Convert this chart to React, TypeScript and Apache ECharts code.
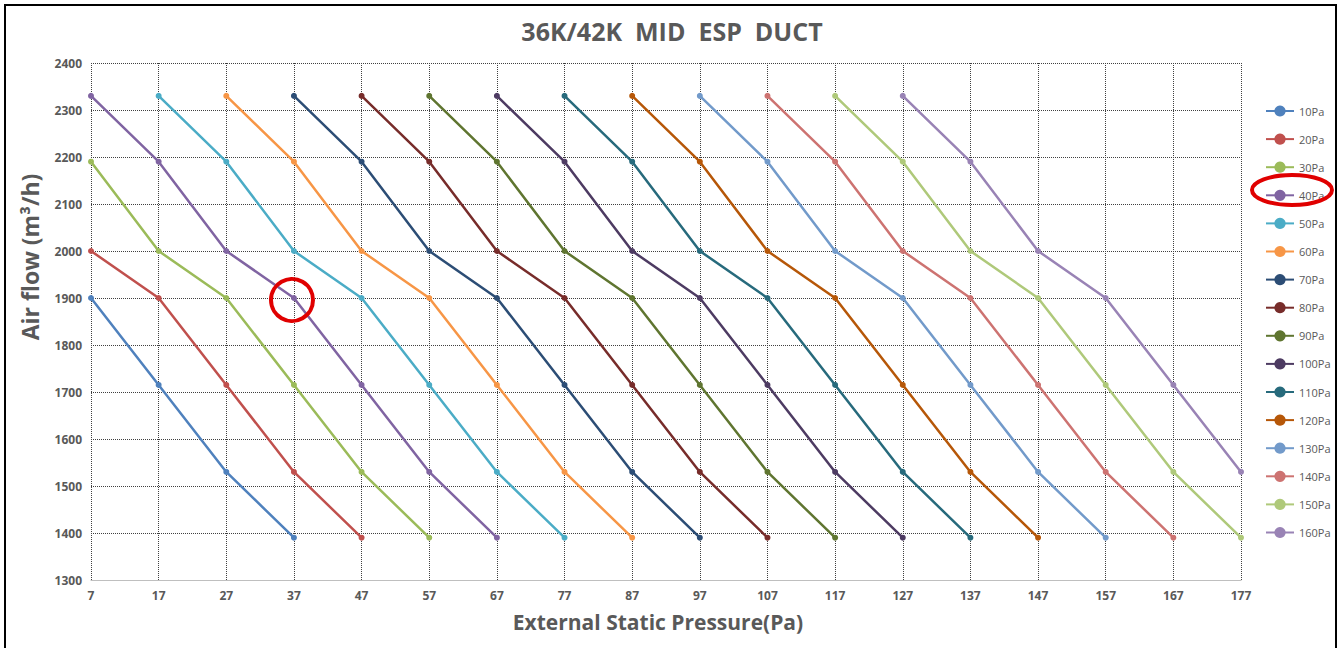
import React, { useEffect, useRef } from "react";
import * as echarts from "echarts";

const titleText = "36K/42K  MID  ESP  DUCT";
const xAxisName = "External Static Pressure(Pa)";
const yAxisName = "Air flow (m³/h)";

const seriesNames = ["10Pa", "20Pa", "30Pa", "40Pa", "50Pa", "60Pa", "70Pa", "80Pa", "90Pa", "100Pa", "110Pa", "120Pa", "130Pa", "140Pa", "150Pa", "160Pa"];

const colors = ["#4F81BD", "#C0504D", "#9BBB59", "#8064A2", "#4BACC6", "#F79646", "#2C4D75", "#772C2A", "#5F7530", "#4D3B62", "#276A7C", "#B65708", "#729ACA", "#CD7371", "#AFC97A", "#9983B5"];

const s10 = [[7, 1900], [17, 1715], [27, 1530], [37, 1390]];
const s20 = [[7, 2000], [17, 1900], [27, 1715], [37, 1530], [47, 1390]];
const s30 = [[7, 2190], [17, 2000], [27, 1900], [37, 1715], [47, 1530], [57, 1390]];
const s40 = [[7, 2330], [17, 2190], [27, 2000], [37, 1900], [47, 1715], [57, 1530], [67, 1390]];
const s50 = [[17, 2330], [27, 2190], [37, 2000], [47, 1900], [57, 1715], [67, 1530], [77, 1390]];
const s60 = [[27, 2330], [37, 2190], [47, 2000], [57, 1900], [67, 1715], [77, 1530], [87, 1390]];
const s70 = [[37, 2330], [47, 2190], [57, 2000], [67, 1900], [77, 1715], [87, 1530], [97, 1390]];
const s80 = [[47, 2330], [57, 2190], [67, 2000], [77, 1900], [87, 1715], [97, 1530], [107, 1390]];
const s90 = [[57, 2330], [67, 2190], [77, 2000], [87, 1900], [97, 1715], [107, 1530], [117, 1390]];
const s100 = [[67, 2330], [77, 2190], [87, 2000], [97, 1900], [107, 1715], [117, 1530], [127, 1390]];
const s110 = [[77, 2330], [87, 2190], [97, 2000], [107, 1900], [117, 1715], [127, 1530], [137, 1390]];
const s120 = [[87, 2330], [97, 2190], [107, 2000], [117, 1900], [127, 1715], [137, 1530], [147, 1390]];
const s130 = [[97, 2330], [107, 2190], [117, 2000], [127, 1900], [137, 1715], [147, 1530], [157, 1390]];
const s140 = [[107, 2330], [117, 2190], [127, 2000], [137, 1900], [147, 1715], [157, 1530], [167, 1390]];
const s150 = [[117, 2330], [127, 2190], [137, 2000], [147, 1900], [157, 1715], [167, 1530], [177, 1390]];
const s160 = [[127, 2330], [137, 2190], [147, 2000], [157, 1900], [167, 1715], [177, 1530]];

const allSeries = [s10, s20, s30, s40, s50, s60, s70, s80, s90, s100, s110, s120, s130, s140, s150, s160];

const FONT = "'Open Sans', 'Noto Sans', sans-serif";

export default function App() {
  const ref = useRef<HTMLDivElement>(null);
  useEffect(() => {
    if (!ref.current) return;
    const chart = echarts.init(ref.current, undefined, { renderer: "svg" });
    const gridLine = { show: true, lineStyle: { color: "#404040", type: [1, 1], width: 1 } };
    chart.setOption({
      animation: false,
      backgroundColor: "#ffffff",
      color: colors,
      title: {
        text: titleText,
        left: 667,
        textAlign: "center",
        top: 13,
        textStyle: { fontFamily: FONT, fontSize: 25, fontWeight: "bold", color: "#595959" },
      },
      grid: { left: 91, right: 97, top: 63, bottom: 68, containLabel: false },
      legend: {
        orient: "vertical",
        left: 1260,
        top: 99,
        itemWidth: 28,
        itemHeight: 14,
        itemGap: 14.1,
        textStyle: { fontFamily: FONT, fontSize: 11, color: "#595959", lineHeight: 14 },
        data: seriesNames,
      },
      xAxis: {
        type: "value",
        min: 7,
        max: 177,
        interval: 10,
        axisLine: { show: true, lineStyle: { color: "#bfbfbf", width: 1 } },
        axisTick: { show: false },
        axisLabel: { fontFamily: FONT, fontSize: 12, fontWeight: "bold", color: "#595959", margin: 9 },
        splitLine: gridLine,
      },
      yAxis: {
        type: "value",
        min: 1300,
        max: 2400,
        interval: 100,
        axisLine: { show: false },
        axisTick: { show: false },
        axisLabel: {
          fontFamily: FONT,
          fontSize: 12,
          fontWeight: "bold",
          color: "#595959",
          margin: 9,
          formatter: (v: number) => String(v),
        },
        splitLine: gridLine,
      },
      series: allSeries.map((d, i) => ({
        name: seriesNames[i],
        type: "line",
        data: d,
        symbol: "circle",
        symbolSize: 6,
        lineStyle: { width: 2.5 },
        itemStyle: { color: colors[i] },
      })),
      graphic: [
        {
          type: "rect",
          shape: { x: 5, y: 5, width: 1331, height: 660 },
          style: { fill: "none", stroke: "#000", lineWidth: 2 },
          z: 100,
        },
        {
          type: "text",
          x: 30,
          y: 257,
          rotation: Math.PI / 2,
          style: {
            text: yAxisName,
            fontFamily: FONT,
            fontSize: 23,
            fontWeight: "bold",
            fill: "#595959",
            align: "center",
            verticalAlign: "middle",
          },
        },
        {
          type: "text",
          x: 658,
          y: 622,
          style: {
            text: xAxisName,
            fontFamily: FONT,
            fontSize: 21,
            fontWeight: "bold",
            fill: "#595959",
            align: "center",
            verticalAlign: "middle",
          },
        },
        {
          type: "circle",
          shape: { cx: 292, cy: 300, r: 21 },
          style: { fill: "none", stroke: "#e00000", lineWidth: 4 },
          z: 100,
        },
        {
          type: "ellipse",
          shape: { cx: 1292, cy: 190, rx: 40, ry: 15 },
          style: { fill: "none", stroke: "#e00000", lineWidth: 4 },
          z: 100,
        },
      ],
    });
    return () => chart.dispose();
  }, []);
  return <div ref={ref} style={{ position: "fixed", left: 0, top: 0, width: 1338, height: 648 }} />;
}
